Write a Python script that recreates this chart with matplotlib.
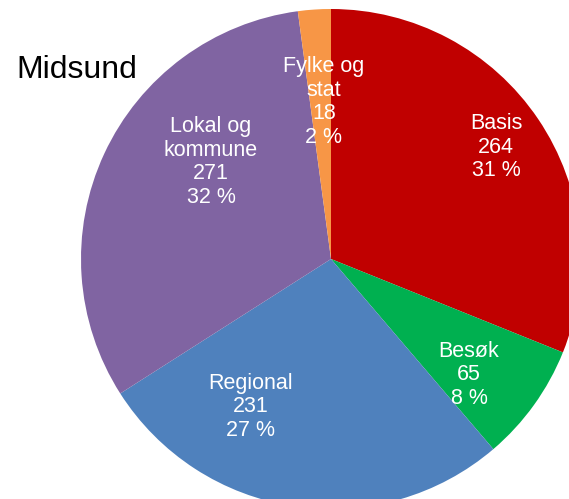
import matplotlib
matplotlib.use("Agg")
import matplotlib.pyplot as plt

categories = ["Basis", "Besøk", "Regional", "Lokal og\nkommune", "Fylke og\nstat"]
values = [264, 65, 231, 271, 18]
colors = ["#C00000", "#00B050", "#4F81BD", "#8064A2", "#F79646"]
title = "Midsund"

# label placement (pixel offsets from pie centre, y up) - layout only
label_offsets = [(165, 112), (138, -116), (-80, -148), (-120, 97), (-7, 157)]

W, H = 569, 499
fig = plt.figure(figsize=(W / 100, H / 100), dpi=100)
ax = fig.add_axes([0, 0, 1, 1])

cx, cy, r = 331, 240, 250
ax.pie(values, colors=colors, startangle=90, counterclock=False,
       center=(cx, cy), radius=r, frame=True,
       wedgeprops=dict(linewidth=0))
ax.set_xlim(0, W)
ax.set_ylim(0, H)
ax.set_aspect("equal")
ax.axis("off")

total = sum(values)
for cat, v, (dx, dy) in zip(categories, values, label_offsets):
    pct = round(v / total * 100)
    ax.text(cx + dx, cy + dy, f"{cat}\n{v}\n{pct} %", ha="center", va="center",
            color="white", fontsize=15.5, family="Liberation Sans", linespacing=1.16)

fig.text(16 / W, 1 - 70 / H, title, ha="left", va="center", fontsize=23,
         family="Liberation Sans", color="black")

fig.savefig("out.png", dpi=100)
